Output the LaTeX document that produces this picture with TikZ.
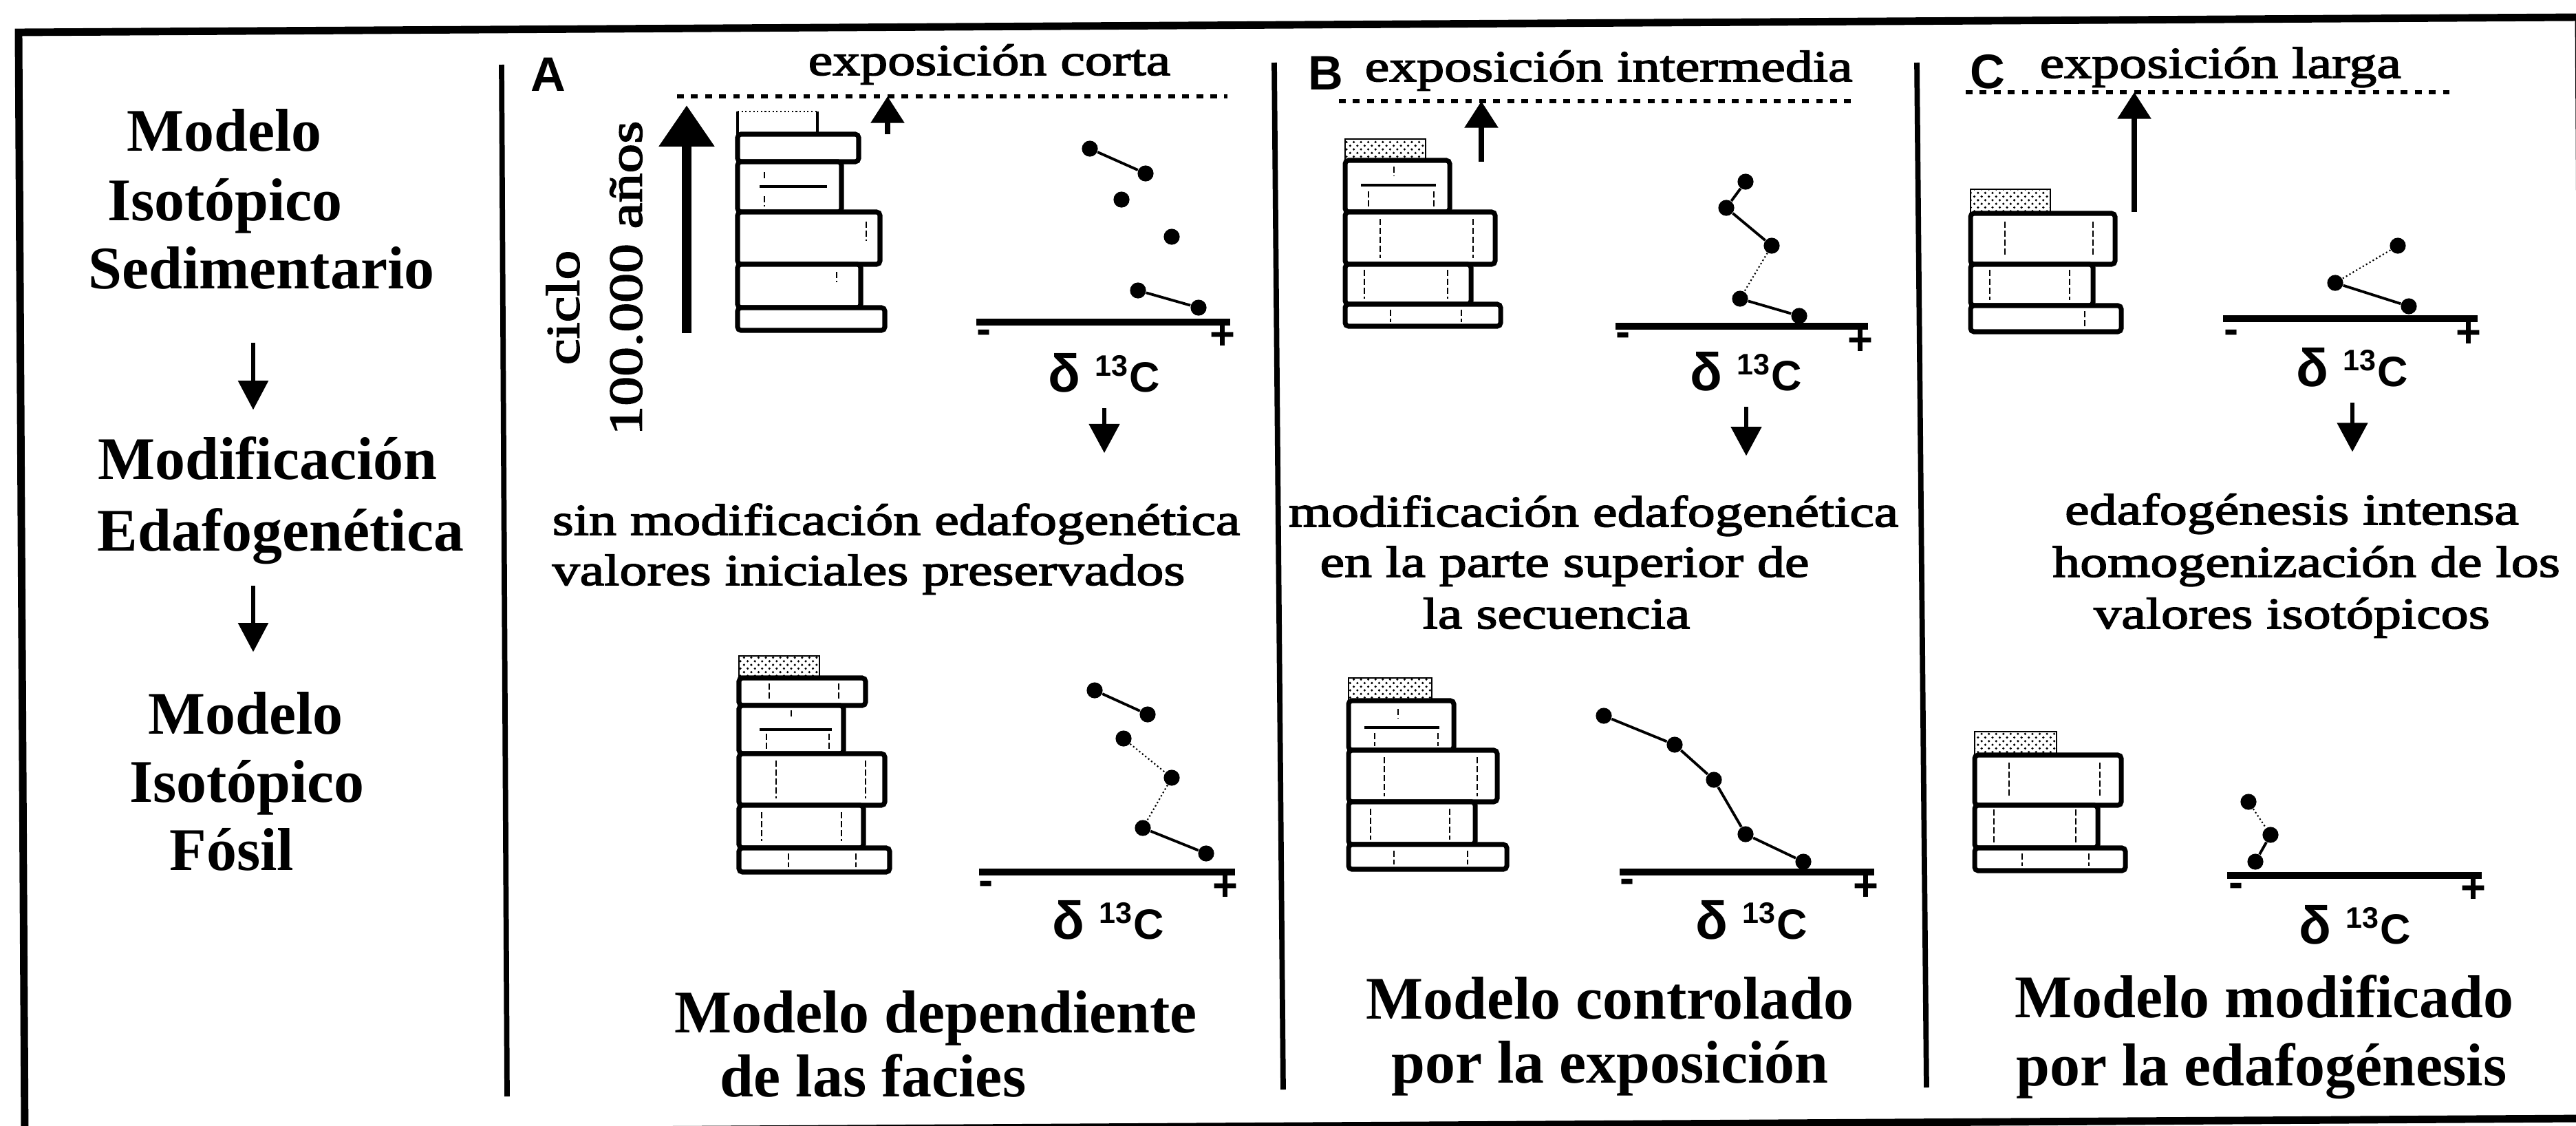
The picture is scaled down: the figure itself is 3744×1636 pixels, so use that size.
\documentclass[tikz,border=0pt]{standalone}
\usepackage{fontspec}
\setmainfont{Liberation Serif}
\setsansfont{Liberation Sans}
\newfontfamily\widefont{Liberation Serif}[FakeStretch=1.25, FakeBold=2.5]
\usetikzlibrary{arrows.meta,patterns}

\begin{document}
\begin{tikzpicture}[x=0.01cm, y=-0.01cm,
    heading/.style={font=\bfseries\fontsize{25}{28}\selectfont, inner sep=0pt, anchor=base},
    body/.style={font=\widefont\fontsize{18.2}{20.8}\selectfont, inner sep=0pt, anchor=base},
    cyc/.style={font=\widefont\fontsize{19.5}{21}\selectfont, inner sep=0pt, rotate=90},
    tag/.style={font=\sffamily\bfseries\fontsize{20}{22}\selectfont, inner sep=0pt, anchor=base},
    iso/.style={font=\sffamily\bfseries\fontsize{17.5}{20}\selectfont, inner sep=0pt, anchor=base},
    sign/.style={font=\sffamily\bfseries\fontsize{18}{18}\selectfont, inner sep=0pt},
    bed/.style={draw, line width=2pt, rounded corners=1.4pt, fill=white},
    crack/.style={line width=0.6pt, dash pattern=on 2.5pt off 1.2pt},
    stip/.style={pattern=crosshatch dots, draw, line width=0.8pt},
    axisl/.style={line width=2.6pt},
    pointmark/.style={circle, fill, inner sep=0pt, minimum size=6.6pt},
    trend/.style={line width=1.1pt},
    faint/.style={line width=0.6pt, densely dotted},
    expo/.style={line width=1.6pt, dash pattern=on 2.8pt off 3pt},
    rise/.style={line width=2.2pt, -{Triangle[width=13.5pt,length=11pt]}},
    fall/.style={line width=1.5pt, -{Triangle[width=12.5pt,length=12pt]}, shorten <=6.5pt},
    flow/.style={line width=1.7pt, -{Triangle[width=12.2pt,length=12pt]}},
    cyclearrow/.style={line width=4pt, -{Triangle[width=22pt,length=17pt]}},
    outerline/.style={line width=3.1pt},
    divider/.style={line width=2.2pt}]

\useasboundingbox (0,0) rectangle (3744,1636);

\draw[outerline] (27,47) -- (3748,25) -- (3757,1625) -- (36,1647) -- cycle;
\draw[divider] (729,94) -- (737,1593);
\draw[divider] (1852,91) -- (1865,1583);
\draw[divider] (2786,91) -- (2800,1580);

% left column
\node[heading] (m1) at (326,219) {Modelo};
\node[heading] (m2) at (327,320) {Isotópico};
\node[heading] (m3) at (380,419) {Sedimentario};
\node[heading] (e1) at (389,696) {Modificación};
\node[heading] (e2) at (408,800) {Edafogenética};
\node[heading] (f1) at (357,1066) {Modelo};
\node[heading] (f2) at (359,1165) {Isotópico};
\node[heading] (f3) at (337,1264) {Fósil};
\coordinate (lx) at (368,0);
\draw[flow, shorten <=21.9pt, shorten >=10.8pt] (m3.south -| lx) -- (e1.north -| lx);
\draw[flow, shorten <=8.8pt, shorten >=16.2pt] (e2.south -| lx) -- (f1.north -| lx);

% headers
\node[tag] (labA) at (797,132) {A};
\node[body, anchor=base west] (expA) at (1174,109) {exposición corta};
\node[tag] (labB) at (1927,130) {B};
\node[body, anchor=base west] (expB) at (1983,118) {exposición intermedia};
\node[tag] (labC) at (2889,128) {C};
\node[body, anchor=base west] (expC) at (2964,113) {exposición larga};

\coordinate (lvlA) at (984,140);
\coordinate (lvlB) at (1946,147);
\coordinate (lvlC) at (2857,134);
\draw[expo] (lvlA) -- (1784,140);
\draw[expo] (lvlB) -- (2692,147);
\draw[expo] (lvlC) -- (3570,134);

\coordinate (cycA) at (998,484);
\draw[cyclearrow, shorten >=3.7pt] (cycA) -- (cycA |- lvlA);
\node[cyc] (cyc1) at (818,447) {ciclo};
\node[cyc] (cyc2) at (910,404) {100.000 años};

\coordinate (topA) at (1290,195);
\coordinate (topB) at (2153,235);
\coordinate (topC) at (3102,308);
\draw[rise] (topA) -- (topA |- lvlA);
\draw[rise] (topB) -- (topB |- lvlB);
\draw[rise] (topC) -- (topC |- lvlC);

% columns, sedimentary stage
\draw[line width=0.9pt] (1072,162) -- (1072,195) (1188,162) -- (1188,195);
\draw[faint] (1072,162) -- (1188,162);
\foreach \r/\t/\b in {1248/195/235, 1223/235/308, 1279/308/384, 1251/384/447, 1286/447/480}
    \draw[bed] (1072,\t) rectangle (\r,\b);
\draw[line width=1.2pt] (1104,271) -- (1202,271);
\foreach \x/\t/\b in {1259/322/350, 1216/395/410, 1111/250/262, 1111/285/300}
    \draw[crack] (\x,\t) -- (\x,\b);

\draw[stip] (1955,202) rectangle (2072,233);
\foreach \r/\t/\b in {2107/233/308, 2173/308/384, 2138/384/442, 2181/442/474}
    \draw[bed] (1955,\t) rectangle (\r,\b);
\draw[line width=1.2pt] (1978,269) -- (2087,269);
\foreach \x/\t/\b in {2026/242/256, 1989/278/303, 2084/278/303, 2006/318/375, 2141/318/375,
    1983/392/434, 2104/392/434, 2021/450/468, 2124/450/468}
    \draw[crack] (\x,\t) -- (\x,\b);

\draw[stip] (2864,275) rectangle (2980,310);
\foreach \r/\t/\b in {3074/310/384, 3042/384/444, 3083/444/482}
    \draw[bed] (2864,\t) rectangle (\r,\b);
\foreach \x/\t/\b in {2914/322/372, 3042/322/372, 2892/392/436, 3008/392/436, 3030/452/474}
    \draw[crack] (\x,\t) -- (\x,\b);

% d13C curves, sedimentary stage
\draw[axisl] (1419,468) -- (1788,468);
\draw[axisl] (2348,474) -- (2715,474);
\draw[axisl] (3231,463) -- (3601,463);
\node[sign] (mA1) at (1430,489) {-};
\node[sign] (pA1) at (1777,489) {+};
\node[sign] (mB1) at (2359,493) {-};
\node[sign] (pB1) at (2704,497) {+};
\node[sign] (mC1) at (3243,489) {-};
\node[sign] (pC1) at (3588,486) {+};

\foreach \n/\x/\y in {a1/1584/216, a2/1665/252, a3/1630/290, a4/1703/344, a5/1654/422, a6/1742/447,
    b1/2537/264, b2/2509/302, b3/2575/357, b4/2529/434, b5/2615/459,
    c1/3485/357, c2/3394/411, c3/3501/445}
    \node[pointmark] (\n) at (\x,\y) {};
\draw[trend] (a1) -- (a2) (a5) -- (a6);
\draw[trend] (b1) -- (b2) -- (b3) (b4) -- (b5);
\draw[faint] (b3) -- (b4);
\draw[faint] (c1) -- (c2);
\draw[trend] (c2) -- (c3);

\node[iso] (dA1) at (1605,569) {{\fontsize{22}{22}\selectfont δ}\hspace{6pt}\textsuperscript{13}C};
\node[iso] (dB1) at (2538,567) {{\fontsize{22}{22}\selectfont δ}\hspace{6pt}\textsuperscript{13}C};
\node[iso] (dC1) at (3419,561) {{\fontsize{22}{22}\selectfont δ}\hspace{6pt}\textsuperscript{13}C};

% middle texts
\node[body, anchor=base west] (tA1) at (802,777) {sin modificación edafogenética};
\node[body, anchor=base west] (tA2) at (802,850) {valores iniciales preservados};
\node[body] (tB1) at (2316,765) {modificación edafogenética};
\node[body] (tB2) at (2274,838) {en la parte superior de};
\node[body] (tB3) at (2262,913) {la secuencia};
\node[body] (tC1) at (3331,762) {edafogénesis intensa};
\node[body] (tC2) at (3352,838) {homogenización de los};
\node[body] (tC3) at (3331,913) {valores isotópicos};

\draw[fall, shorten >=20.8pt] (dA1.south) -- (dA1.south |- tA1.north);
\draw[fall, shorten >=16.2pt] (dB1.south) -- (dB1.south |- tB1.north);
\draw[fall, shorten >=17pt] (dC1.south) -- (dC1.south |- tC1.north);

% columns, fossil stage
\draw[stip] (1074,953) rectangle (1191,985);
\foreach \r/\t/\b in {1258/985/1025, 1226/1025/1095, 1286/1095/1170, 1255/1170/1232, 1293/1232/1267}
    \draw[bed] (1074,\t) rectangle (\r,\b);
\draw[line width=1.2pt] (1104,1060) -- (1209,1060);
\foreach \x/\t/\b in {1118/993/1018, 1219/993/1018, 1150/1032/1045, 1114/1066/1090, 1205/1066/1090,
    1128/1105/1160, 1258/1105/1160, 1107/1180/1222, 1223/1180/1222, 1146/1240/1260, 1244/1240/1260}
    \draw[crack] (\x,\t) -- (\x,\b);

\draw[stip] (1960,985) rectangle (2081,1018);
\foreach \r/\t/\b in {2113/1018/1090, 2176/1090/1165, 2144/1165/1227, 2190/1227/1263}
    \draw[bed] (1960,\t) rectangle (\r,\b);
\draw[line width=1.2pt] (1983,1057) -- (2092,1057);
\foreach \x/\t/\b in {2032/1030/1044, 1998/1065/1084, 2090/1065/1084, 2012/1100/1157, 2147/1100/1157,
    1992/1175/1220, 2107/1175/1220, 2026/1236/1256, 2133/1236/1256}
    \draw[crack] (\x,\t) -- (\x,\b);

\draw[stip] (2870,1063) rectangle (2989,1097);
\foreach \r/\t/\b in {3083/1097/1170, 3049/1170/1232, 3089/1232/1265}
    \draw[bed] (2870,\t) rectangle (\r,\b);
\foreach \x/\t/\b in {2920/1108/1160, 3052/1108/1160, 2898/1176/1228, 3017/1176/1228, 2939/1240/1258, 3036/1240/1258}
    \draw[crack] (\x,\t) -- (\x,\b);

% d13C curves, fossil stage
\draw[axisl] (1423,1267) -- (1795,1267);
\draw[axisl] (2354,1267) -- (2724,1267);
\draw[axisl] (3237,1272) -- (3607,1272);
\node[sign] (mA2) at (1433,1290) {-};
\node[sign] (pA2) at (1781,1290) {+};
\node[sign] (mB2) at (2365,1287) {-};
\node[sign] (pB2) at (2712,1290) {+};
\node[sign] (mC2) at (3250,1293) {-};
\node[sign] (pC2) at (3595,1293) {+};

\foreach \n/\x/\y in {g1/1591/1003, g2/1668/1038, g3/1633/1073, g4/1703/1130, g5/1661/1203, g6/1753/1240,
    h1/2331/1040, h2/2434/1082, h3/2491/1133, h4/2537/1212, h5/2621/1252,
    k1/3268/1165, k2/3300/1213, k3/3278/1252}
    \node[pointmark] (\n) at (\x,\y) {};
\draw[trend] (g1) -- (g2) (g5) -- (g6);
\draw[faint] (g3) -- (g4) -- (g5);
\draw[trend] (h1) -- (h2) -- (h3) -- (h4) -- (h5);
\draw[faint] (k1) -- (k2);
\draw[trend] (k2) -- (k3);

\node[iso] (dA2) at (1611,1364) {{\fontsize{22}{22}\selectfont δ}\hspace{6pt}\textsuperscript{13}C};
\node[iso] (dB2) at (2546,1364) {{\fontsize{22}{22}\selectfont δ}\hspace{6pt}\textsuperscript{13}C};
\node[iso] (dC2) at (3423,1371) {{\fontsize{22}{22}\selectfont δ}\hspace{6pt}\textsuperscript{13}C};

% bottom captions
\node[heading] (rA1) at (1360,1500) {Modelo dependiente};
\node[heading] (rA2) at (1269,1593) {de las facies};
\node[heading] (rB1) at (2340,1480) {Modelo controlado};
\node[heading] (rB2) at (2340,1573) {por la exposición};
\node[heading] (rC1) at (3291,1478) {Modelo modificado};
\node[heading] (rC2) at (3287,1577) {por la edafogénesis};

\end{tikzpicture}
\end{document}
